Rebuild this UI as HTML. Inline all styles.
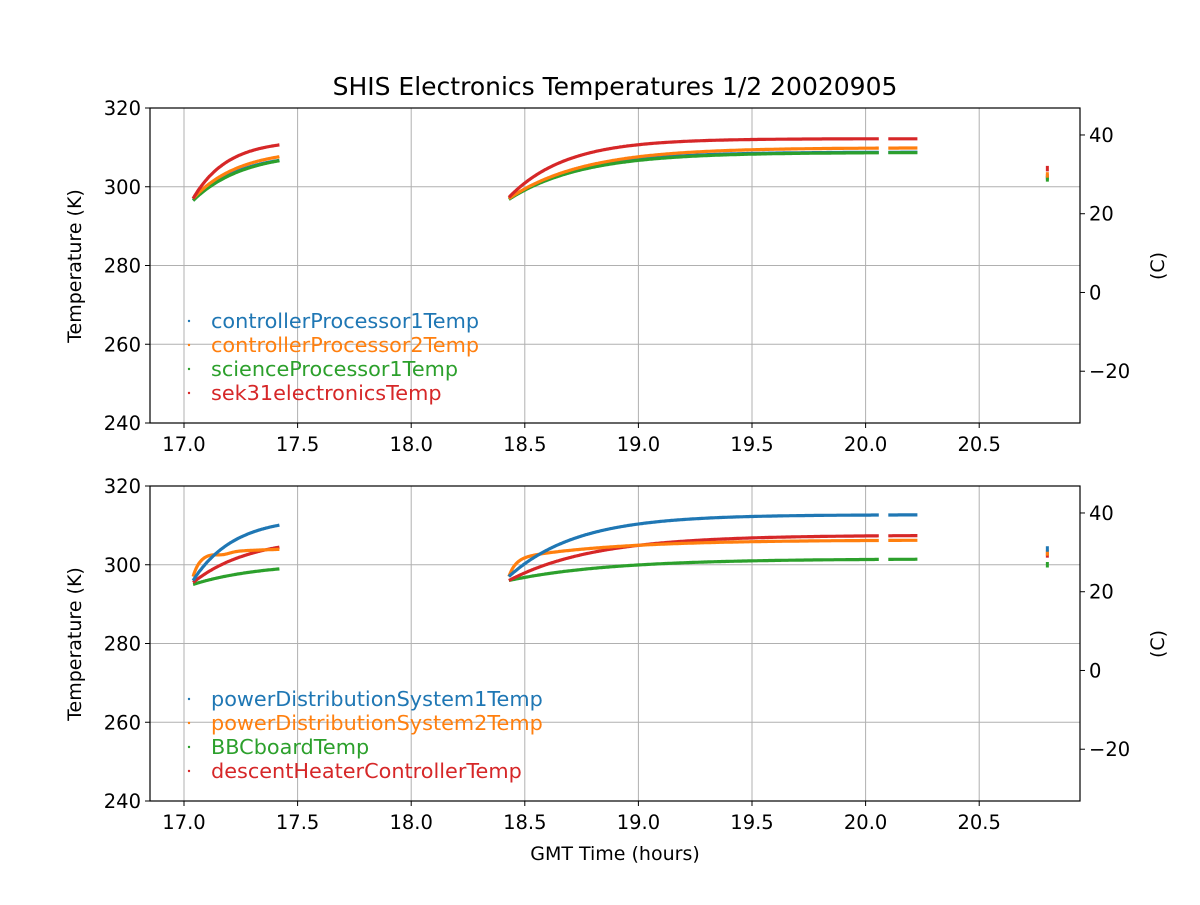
<!DOCTYPE html>
<html><head><meta charset="utf-8"><style>
body{margin:0;background:#fff}
svg text{font-family:"DejaVu Sans","Liberation Sans",sans-serif;fill:#000}
</style></head><body>
<svg id="s" width="1200" height="900" xmlns="http://www.w3.org/2000/svg"></svg>
<script>
const s=document.getElementById('s');
let h='';
const X0=150,X1=1080;
const xp=t=>184+(t-17)*227.2;
const C={b:'#1f77b4',o:'#ff7f0e',g:'#2ca02c',r:'#d62728'};
h+='<text x="615" y="95" font-size="25" text-anchor="middle">SHIS Electronics Temperatures 1/2 20020905</text>';
function panel(top,series,legend){
  const bot=top+315;
  const yp=k=>top+(320-k)*3.9375;
  for(let t=17;t<=20.5;t+=0.5){const x=xp(t);h+=`<line x1="${x}" y1="${top}" x2="${x}" y2="${bot}" stroke="#b0b0b0" stroke-width="1"/>`;}
  for(let k=260;k<=300;k+=20){const y=yp(k);h+=`<line x1="${X0}" y1="${y}" x2="${X1}" y2="${y}" stroke="#b0b0b0" stroke-width="1"/>`;}
  for(const sr of series){
    for(const seg of sr.segs){
      let pts=[];
      for(let t=seg[0];t<=seg[1]+1e-9;t+=0.004){pts.push(xp(t).toFixed(1)+','+yp(sr.f(t)).toFixed(1));}
      h+=`<polyline points="${pts.join(' ')}" fill="none" stroke="${sr.c}" stroke-width="3.2"/>`;
    }
    const x=xp(20.8);h+=`<line x1="${x}" y1="${yp(sr.p-0.7)}" x2="${x}" y2="${yp(sr.p+0.7)}" stroke="${sr.c}" stroke-width="3"/>`;
  }
  h+=`<rect x="${X0}" y="${top}" width="${X1-X0}" height="315" fill="none" stroke="#000" stroke-width="1.2"/>`;
  for(let t=17;t<=20.5;t+=0.5){const x=xp(t);h+=`<line x1="${x}" y1="${bot}" x2="${x}" y2="${bot+5}" stroke="#000"/><text x="${x}" y="${bot+28}" font-size="19.5" text-anchor="middle">${t.toFixed(1)}</text>`;}
  for(let k=240;k<=320;k+=20){const y=yp(k);h+=`<line x1="${X0-5}" y1="${y}" x2="${X0}" y2="${y}" stroke="#000"/><text x="${X0-9}" y="${y+7}" font-size="19.5" text-anchor="end">${k}</text>`;}
  for(let c=-20;c<=40;c+=20){const y=yp(c+273.15);h+=`<line x1="${X1}" y1="${y}" x2="${X1+5}" y2="${y}" stroke="#000"/><text x="${X1+9}" y="${y+7}" font-size="19.5">${c<0?'\u2212'+(-c):c}</text>`;}
  h+=`<text transform="translate(81,${top+158}) rotate(-90)" font-size="19" text-anchor="middle">Temperature (K)</text>`;
  h+=`<text transform="translate(1164,${top+158}) rotate(-90)" font-size="19" text-anchor="middle">(C)</text>`;
  legend.forEach((l,i)=>{const y=top+220+i*24;h+=`<circle cx="189" cy="${y-7}" r="1.2" fill="${l[1]}"/><text x="211" y="${y}" font-size="20.8" style="fill:${l[1]}">${l[0]}</text>`;});
}
const ex=(t,t0,a,b,tau)=>a+(b-a)*(1-Math.exp(-(t-t0)/tau));
const S=[[17.04,17.42],[18.43,20.06],[20.1,20.23]];
function mk(c,a1,b1,tau1,a2,b2,tau2,p,extra){return {c,segs:S,p,f:t=>{let v=t<18?ex(t,17.04,a1,b1,tau1):ex(t,18.43,a2,b2,tau2);if(extra)v+=extra(t);return v;}};}
panel(108,[
 mk(C.b,296.5,308.5,0.2,296.8,308.8,0.3,302.5),
 mk(C.g,296.5,308.8,0.22,296.8,308.7,0.32,302),
 mk(C.o,297,309.5,0.2,297,309.9,0.33,303),
 mk(C.r,297,311.8,0.15,297.3,312.2,0.25,304.6)
],[['controllerProcessor1Temp',C.b],['controllerProcessor2Temp',C.o],['scienceProcessor1Temp',C.g],['sek31electronicsTemp',C.r]]);
const orange=t=>{
  if(t<18){const d=t-17.04;return 297+5.5*(1-Math.exp(-d/0.03))+1.8*(1-Math.exp(-d/0.25))-0.6*Math.exp(-Math.pow(t-17.17,2)/0.002);}
  const d=t-18.43;return 297+4.5*(1-Math.exp(-d/0.03))+4.8*(1-Math.exp(-d/0.45));
};
panel(486,[
 mk(C.g,295,300.5,0.3,296,301.5,0.45,300),
 mk(C.r,295.5,307,0.25,296,307.5,0.38,302.5),
 {c:C.o,segs:S,p:303,f:orange},
 mk(C.b,296,312,0.18,297,312.7,0.3,304)
],[['powerDistributionSystem1Temp',C.b],['powerDistributionSystem2Temp',C.o],['BBCboardTemp',C.g],['descentHeaterControllerTemp',C.r]]);
h+='<text x="615" y="860" font-size="19" text-anchor="middle">GMT Time (hours)</text>';
s.innerHTML=h;
</script>
</body></html>
